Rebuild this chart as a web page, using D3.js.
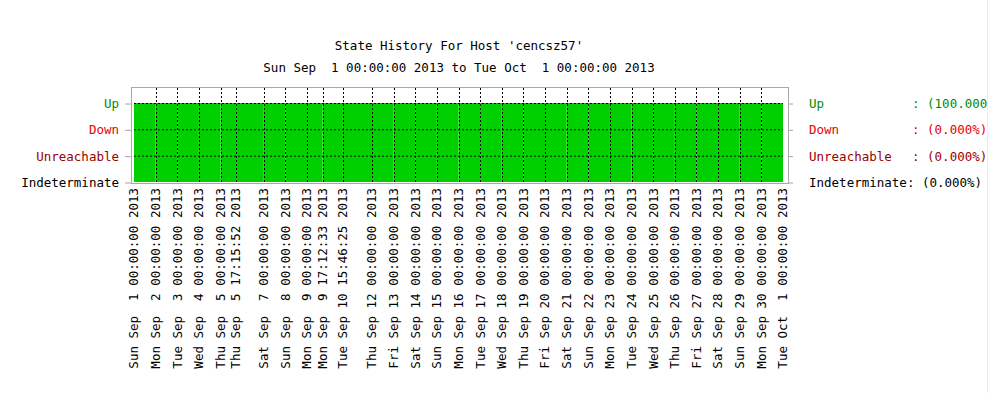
<!DOCTYPE html>
<html>
<head>
<meta charset="utf-8">
<script src="https://cdn.jsdelivr.net/npm/d3@7"></script>
<style>
    body { margin: 0; background: #fff; }
    text { font-family: "DejaVu Sans Mono", monospace; font-size: 12.5px; white-space: pre; }
</style>
</head>
<body>
<div id="chart"></div>
<script>
// Values
const hostName = "cencsz57";
const rangeStart = "2013-09-01 00:00:00";
const rangeEnd = "2013-10-01 00:00:00";

// times where a label / grid line is drawn (state changes and day starts)
const eventTimes = [
    "2013-09-01 00:00:00", "2013-09-02 00:00:00", "2013-09-03 00:00:00",
    "2013-09-04 00:00:00", "2013-09-05 00:00:00", "2013-09-05 17:15:52",
    "2013-09-07 00:00:00", "2013-09-08 00:00:00", "2013-09-09 00:00:00",
    "2013-09-09 17:12:33", "2013-09-10 15:46:25", "2013-09-12 00:00:00",
    "2013-09-13 00:00:00", "2013-09-14 00:00:00", "2013-09-15 00:00:00",
    "2013-09-16 00:00:00", "2013-09-17 00:00:00", "2013-09-18 00:00:00",
    "2013-09-19 00:00:00", "2013-09-20 00:00:00", "2013-09-21 00:00:00",
    "2013-09-22 00:00:00", "2013-09-23 00:00:00", "2013-09-24 00:00:00",
    "2013-09-25 00:00:00", "2013-09-26 00:00:00", "2013-09-27 00:00:00",
    "2013-09-28 00:00:00", "2013-09-29 00:00:00", "2013-09-30 00:00:00",
    "2013-10-01 00:00:00"
];

// state between one event time and the next
const intervalStates = [
    "Up", "Up", "Up", "Up", "Up", "Up", "Up", "Up", "Up", "Up",
    "Up", "Up", "Up", "Up", "Up", "Up", "Up", "Up", "Up", "Up",
    "Up", "Up", "Up", "Up", "Up", "Up", "Up", "Up", "Up", "Up"
];

// bottom to top
const stateNames = ["Indeterminate", "Unreachable", "Down", "Up"];
const statePercents = [0, 0, 0, 100];

// styling
const stateColors = {
    "Up": "#008a00",
    "Down": "#e80000",
    "Unreachable": "#9a0000",
    "Indeterminate": "#000"
};
const barColor = "#00d000";
const frameColor = "#a8a8a8";

const width = 991, height = 393;
const plot = {left: 134, right: 783, top: 103, bottom: 182, frameTop: 87, frameLeft: 131, frameRight: 788};

const parseTime = d3.timeParse("%Y-%m-%d %H:%M:%S");
const formatTime = d3.timeFormat("%a %b %e %H:%M:%S %Y");
const events = eventTimes.map(parseTime);

const svg = d3.select("#chart")
    .append("svg")
        .attr("width", width)
        .attr("height", height);

svg.append("clipPath").attr("id", "pageclip")
    .append("rect").attr("width", 987).attr("height", height);

const g = svg.append("g").attr("clip-path", "url(#pageclip)");

// Scales
const xScale = d3.scaleTime()
    .domain([parseTime(rangeStart), parseTime(rangeEnd)])
    .range([plot.left, plot.right]);

const yScale = d3.scalePoint()
    .domain(stateNames)
    .range([plot.bottom, plot.top]);

// Titles
g.append("text")
    .attr("x", 459).attr("y", 50)
    .attr("text-anchor", "middle")
    .text(`State History For Host '${hostName}'`);

g.append("text")
    .attr("x", 459).attr("y", 72)
    .attr("text-anchor", "middle")
    .text(`${formatTime(parseTime(rangeStart))} to ${formatTime(parseTime(rangeEnd))}`);

// Frame
g.append("rect")
    .attr("x", plot.frameLeft + 0.5)
    .attr("y", plot.frameTop + 0.5)
    .attr("width", plot.frameRight - plot.frameLeft)
    .attr("height", plot.bottom + 1 - plot.frameTop)
    .attr("fill", "none")
    .attr("stroke", frameColor);

// State bars
const intervals = intervalStates.map((s, i) => ({start: events[i], end: events[i + 1], state: s}));

g.selectAll(".bar")
    .data(intervals)
    .join("rect")
        .attr("class", "bar")
        .attr("x", d => xScale(d.start))
        .attr("width", d => xScale(d.end) - xScale(d.start))
        .attr("y", d => yScale(d.state))
        .attr("height", d => yScale(stateNames[0]) - yScale(d.state))
        .attr("fill", barColor);

// Dotted grid
g.selectAll(".hgrid")
    .data(stateNames.slice(1))
    .join("line")
        .attr("class", "hgrid")
        .attr("x1", plot.left).attr("x2", plot.right)
        .attr("y1", d => yScale(d) + 0.5).attr("y2", d => yScale(d) + 0.5)
        .attr("stroke", "#000")
        .attr("stroke-dasharray", "2,2");

g.selectAll(".vgrid")
    .data(events.slice(1, -1))
    .join("line")
        .attr("class", "vgrid")
        .attr("x1", d => Math.round(xScale(d)) + 0.5).attr("x2", d => Math.round(xScale(d)) + 0.5)
        .attr("y1", plot.frameTop + 1).attr("y2", plot.bottom)
        .attr("stroke", "#000")
        .attr("stroke-dasharray", "2,2");

// Left axis
const leftAxis = d3.axisLeft(yScale).tickSize(6).tickPadding(6);
const leftG = g.append("g")
    .attr("transform", `translate(${plot.frameLeft},0.5)`)
    .call(leftAxis);
leftG.select(".domain").remove();
leftG.selectAll(".tick line").attr("stroke", frameColor);
leftG.selectAll(".tick text")
    .style("font-family", "DejaVu Sans Mono")
    .style("font-size", "12.5px")
    .attr("fill", d => stateColors[d]);

// Right axis: state names, then percentages in a column
const rightAxis = d3.axisRight(yScale).tickSize(5).tickPadding(16);
const rightG = g.append("g")
    .attr("transform", `translate(${plot.frameRight},0.5)`)
    .call(rightAxis);
rightG.select(".domain").remove();
rightG.selectAll(".tick line").attr("stroke", frameColor);
rightG.selectAll(".tick text")
    .style("font-family", "DejaVu Sans Mono")
    .style("font-size", "12.5px")
    .attr("fill", d => stateColors[d]);

rightG.selectAll(".tick").append("text")
    .attr("class", "pct")
    .attr("x", d => d.length >= 13 ? 21 + d.length * 7.53 : 124)
    .attr("dy", "0.32em")
    .attr("fill", d => stateColors[d])
    .style("font-family", "DejaVu Sans Mono")
    .style("font-size", "12.5px")
    .text(d => `: (${statePercents[stateNames.indexOf(d)].toFixed(3)}%)`);

// Time labels
g.selectAll(".tlabel")
    .data(events)
    .join("text")
        .attr("class", "tlabel")
        .attr("transform", d => `translate(${xScale(d)},188) rotate(-90)`)
        .attr("dy", "0.35em")
        .attr("text-anchor", "end")
        .attr("fill", "#000")
        .text(d => formatTime(d));

// page edge
svg.append("line")
    .attr("x1", 987.5).attr("x2", 987.5)
    .attr("y1", 0).attr("y2", height)
    .attr("stroke", "#ececec");
</script>
</body>
</html>
